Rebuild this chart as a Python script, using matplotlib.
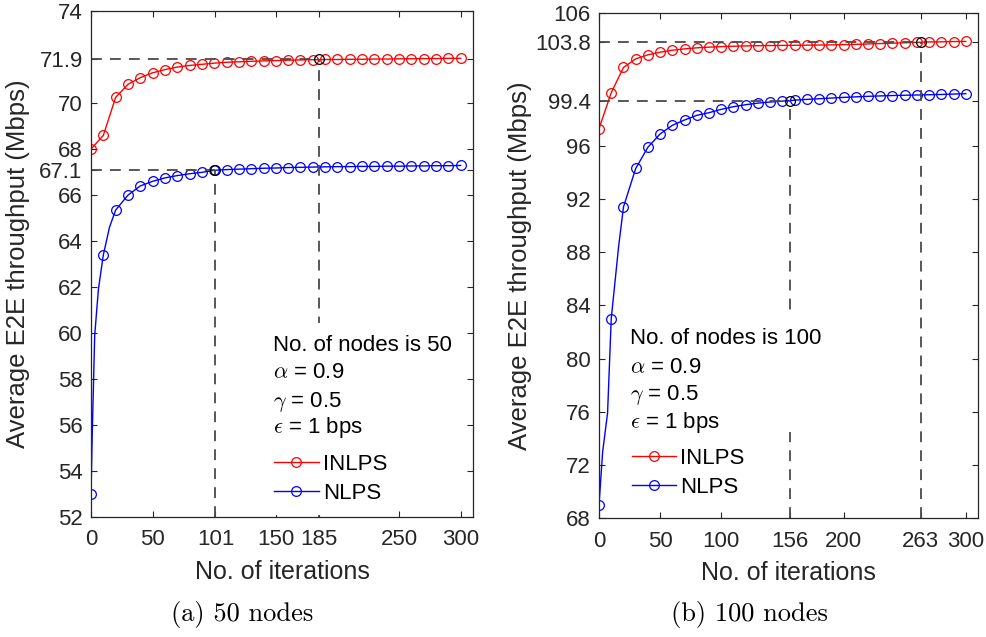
import numpy as np
import matplotlib
matplotlib.use('Agg')
import matplotlib.pyplot as plt
from matplotlib.lines import Line2D
from matplotlib.patches import Rectangle

plt.rcParams['font.family'] = ['Liberation Sans', 'DejaVu Sans']
plt.rcParams['mathtext.fontset'] = 'cm'

# iterations where markers are drawn
iters = [0, 10, 20, 30, 40, 50, 60, 70, 80, 90, 100, 110, 120, 130, 140, 150,
         160, 170, 180, 190, 200, 210, 220, 230, 240, 250, 260, 270, 280, 290, 300]

# (a) 50 nodes
inlps_50 = [68.0, 68.6, 70.25, 70.82, 71.11, 71.32, 71.46, 71.57, 71.64, 71.69, 71.74,
            71.78, 71.8, 71.82, 71.84, 71.85, 71.87, 71.88, 71.89, 71.9, 71.9, 71.91,
            71.91, 71.92, 71.92, 71.93, 71.93, 71.94, 71.94, 71.95, 71.95]
nlps_50 = [53.0, 63.4, 65.35, 66.0, 66.4, 66.6, 66.75, 66.85, 66.93, 66.99, 67.08,
           67.11, 67.13, 67.15, 67.17, 67.18, 67.2, 67.21, 67.22, 67.23, 67.24, 67.24,
           67.25, 67.25, 67.26, 67.26, 67.27, 67.27, 67.28, 67.28, 67.29]
# extra early points on the NLPS line (no markers)
nlps_50_early_x = [1, 3, 6, 15]
nlps_50_early_y = [55.6, 59.9, 61.9, 64.6]

# (b) 100 nodes
inlps_100 = [97.3, 100.0, 101.9, 102.55, 102.85, 103.05, 103.2, 103.3, 103.38, 103.43,
             103.47, 103.5, 103.52, 103.54, 103.55, 103.56, 103.57, 103.58, 103.59,
             103.6, 103.62, 103.64, 103.67, 103.7, 103.73, 103.76, 103.79, 103.82,
             103.83, 103.85, 103.86]
nlps_100 = [69.0, 83.0, 91.4, 94.3, 95.9, 96.9, 97.55, 97.95, 98.3, 98.5, 98.75, 98.95,
            99.1, 99.22, 99.3, 99.37, 99.44, 99.5, 99.55, 99.6, 99.65, 99.69, 99.73,
            99.76, 99.79, 99.81, 99.83, 99.85, 99.87, 99.9, 99.93]
nlps_100_early_x = [3, 7, 16]
nlps_100_early_y = [73.0, 75.9, 88.4]

# convergence points (iteration, throughput)
conv_50 = [(185, 71.9), (101, 67.1)]
conv_100 = [(263, 103.8), (156, 99.4)]

xticks_50 = [0, 50, 101, 150, 185, 250, 300]
yticks_50 = [52, 54, 56, 58, 60, 62, 64, 66, 67.1, 68, 70, 71.9, 74]
xticks_100 = [0, 50, 100, 156, 200, 263, 300]
yticks_100 = [68, 72, 76, 80, 84, 88, 92, 96, 99.4, 103.8, 106]

dark = '#262626'
dash_col = '#4a4a4a'


def merge(xm, ym, xe, ye):
    x = np.array(list(xm) + list(xe), dtype=float)
    y = np.array(list(ym) + list(ye), dtype=float)
    o = np.argsort(x)
    return x[o], y[o]


def draw(ax, red, blue, bx, by, conv, xt, yt, ylim, nodes, tx, ty, box_txt, box_leg):
    # curves
    ax.plot(iters, red, '-', color='red', lw=1.0, zorder=2)
    ax.plot(iters, red, 'o', color='red', mfc='none', ms=7, mew=0.9, zorder=2)
    lx, ly = merge(iters, blue, bx, by)
    ax.plot(lx, ly, '-', color='blue', lw=1.0, zorder=2)
    ax.plot(iters, blue, 'o', color='blue', mfc='none', ms=7, mew=0.9, zorder=2)

    # dashed reference lines + black markers
    for cx, cy in conv:
        ax.plot([0, cx], [cy, cy], color=dash_col, lw=1.3, ls=(0, (6, 4.5)), zorder=2.5)
        ax.plot([cx, cx], [ylim[0], cy], color=dash_col, lw=1.3, ls=(0, (6, 4.5)), zorder=2.5)
        ax.plot([cx], [cy], 'o', color='black', mfc='none', ms=7, mew=0.9, zorder=3)

    ax.set_xlim(0, 310)
    ax.set_ylim(*ylim)
    ax.set_xticks(xt)
    ax.set_xticklabels([str(v) for v in xt])
    ax.set_yticks(yt)
    ax.set_yticklabels([str(v) for v in yt])
    ax.tick_params(direction='in', length=4, width=0.8, top=True, right=True,
                   labelsize=16, colors=dark)
    ax.tick_params(axis='x', pad=9)
    ax.tick_params(axis='y', pad=6)
    for s in ax.spines.values():
        s.set_color(dark)
        s.set_linewidth(0.9)

    ax.set_xlabel('No. of iterations', fontsize=18, color=dark)
    ax.set_ylabel('Average E2E throughput (Mbps)', fontsize=18.5, color=dark)

    # white boxes behind the annotation / legend
    for (x0, y0, x1, y1) in [box_txt, box_leg]:
        ax.add_patch(Rectangle((x0, y0), x1 - x0, y1 - y0, transform=ax.transAxes,
                               facecolor='white', edgecolor='none', zorder=4))
    lines = ['No. of nodes is %d' % nodes, r'$\alpha$ = 0.9', r'$\gamma$ = 0.5',
             r'$\epsilon$ = 1 bps']
    for s, yy in zip(lines, ty):
        ax.text(tx, yy, s, transform=ax.transAxes, fontsize=16, color='black',
                va='center', ha='left', zorder=5)
    handles = [Line2D([], [], color='red', marker='o', mfc='none', ms=7, mew=0.9, lw=1.0),
               Line2D([], [], color='blue', marker='o', mfc='none', ms=7, mew=0.9, lw=1.0)]
    leg = ax.legend(handles, ['INLPS', 'NLPS'], loc='upper left',
                    bbox_to_anchor=(tx - 0.008, ty[-1] - 0.042), borderaxespad=0,
                    borderpad=0.2, fontsize=16, handlelength=2.0, handletextpad=0.2,
                    labelspacing=0.38, frameon=False)
    leg.set_zorder(6)


fig = plt.figure(figsize=(9.87, 6.37), dpi=100)
axL = fig.add_axes([0.0922, 0.1884, 0.387, 0.794])
axR = fig.add_axes([0.6069, 0.1868, 0.384, 0.7928])

draw(axL, inlps_50, nlps_50, nlps_50_early_x, nlps_50_early_y, conv_50,
     xticks_50, yticks_50, (52, 74), 50, 0.476, [0.340, 0.285, 0.227, 0.176],
     (0.463, 0.16, 0.96, 0.383), (0.463, 0.003, 0.75, 0.17))
draw(axR, inlps_100, nlps_100, nlps_100_early_x, nlps_100_early_y, conv_100,
     xticks_100, yticks_100, (68, 106), 100, 0.082, [0.356, 0.299, 0.244, 0.190],
     (0.071, 0.17, 0.604, 0.40), (0.071, 0.035, 0.40, 0.17))

axL.yaxis.set_label_coords(-0.16, 0.5)
axR.yaxis.set_label_coords(-0.177, 0.5)
axL.xaxis.set_label_coords(0.5, -0.085)
axR.xaxis.set_label_coords(0.5, -0.085)

fig.text(0.245, 0.036, '(a) 50 nodes', family='cmr10', fontsize=19, ha='center', va='center')
fig.text(0.759, 0.036, '(b) 100 nodes', family='cmr10', fontsize=19, ha='center', va='center')

fig.savefig('out.png', dpi=100)
